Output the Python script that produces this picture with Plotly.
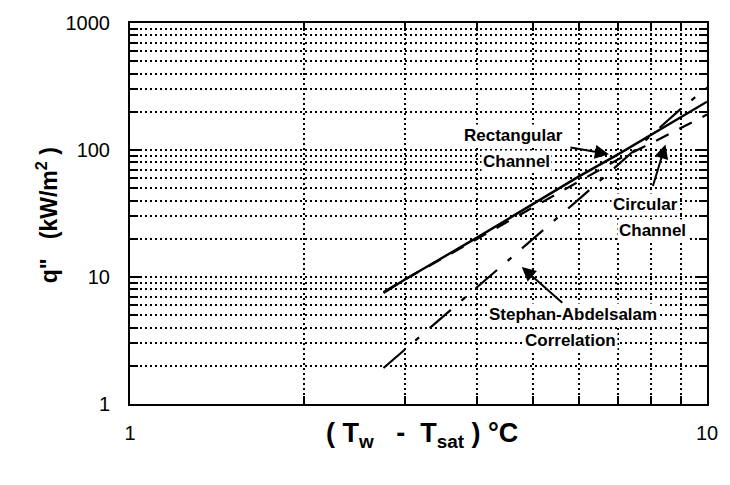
import plotly.graph_objects as go

# Data
dT = [2.75, 3, 4, 5, 6, 7, 8, 9, 10]
q_rect = [7.5, 9.6, 20.5, 37.5, 62, 92, 132, 180, 240]
q_circ = [7.6, 9.6, 20, 35.5, 57, 84, 113, 148, 190]
q_stephan = [1.92, 2.7, 8.4, 20, 41, 76, 130, 210, 310]

x_ticks = [1, 10]
x_ticklabels = ["1", "10"]
y_ticks = [1, 10, 100, 1000]
y_ticklabels = ["1", "10", "100", "1000"]
x_minor = [2, 3, 4, 5, 6, 7, 8, 9]
y_minor = [m * d for d in (1, 10, 100) for m in (2, 3, 4, 5, 6, 7, 8, 9)]

FONT = "Liberation Sans, Arial, Helvetica, sans-serif"

fig = go.Figure()
fig.add_trace(go.Scatter(x=dT, y=q_rect, mode="lines",
                         line=dict(color="black", width=2.4), name="Rectangular Channel"))
fig.add_trace(go.Scatter(x=dT, y=q_circ, mode="lines",
                         line=dict(color="black", width=2.2, dash="14px,12px"), name="Circular Channel"))
fig.add_trace(go.Scatter(x=dT, y=q_stephan, mode="lines",
                         line=dict(color="black", width=2.2, dash="28px,14px,5px,14px"),
                         name="Stephan-Abdelsalam Correlation"))

grid = dict(showgrid=True, gridcolor="black", gridwidth=1.5, griddash="2px,3px")

fig.update_xaxes(type="log", range=[0, 1], tickvals=x_ticks, ticktext=x_ticklabels,
                 ticks="inside", ticklen=10, tickwidth=2, tickcolor="black",
                 showline=True, linecolor="black", linewidth=2, mirror="allticks",
                 tickfont=dict(family=FONT, size=20, color="black"),
                 ticklabelstandoff=10, zeroline=False,
                 minor=dict(tickvals=x_minor, ticks="inside", ticklen=8, tickwidth=1.5,
                            tickcolor="black", **grid),
                 **grid)
fig.update_yaxes(type="log", range=[0, 3], tickvals=y_ticks, ticktext=y_ticklabels,
                 ticks="inside", ticklen=10, tickwidth=2, tickcolor="black",
                 showline=True, linecolor="black", linewidth=2, mirror="allticks",
                 tickfont=dict(family=FONT, size=20, color="black"),
                 ticklabelstandoff=14, zeroline=False,
                 minor=dict(tickvals=y_minor, ticks="inside", ticklen=8, tickwidth=1.5,
                            tickcolor="black", **grid),
                 **grid)

lab = dict(family=FONT, size=17, color="black", weight="bold")
texts = [
    ("Rectangular", 0.665, 2.112),
    ("Channel", 0.670, 1.906),
    ("Circular", 0.893, 1.569),
    ("Channel", 0.905, 1.370),
    ("Stephan-Abdelsalam", 0.768, 0.704),
    ("Correlation", 0.763, 0.497),
]
for t, lx, ly in texts:
    fig.add_annotation(x=lx, y=ly, text=t, showarrow=False, font=lab,
                       bgcolor="white", borderpad=1)

arrows = [
    (0.830, 1.967, -40, -7),
    (0.928, 2.043, -13, 43),
    (0.679, 1.079, 42, 37),
]
for hx, hy, ax, ay in arrows:
    fig.add_annotation(x=hx, y=hy, ax=ax, ay=ay, text="", showarrow=True,
                       arrowhead=2, arrowsize=1.4, arrowwidth=2, arrowcolor="black")

fig.add_annotation(xref="paper", yref="paper", x=(425 - 130) / 582, y=(404 - 455) / 392,
                   text="(\u00a0T<sub>w</sub>\u00a0\u00a0\u00a0-\u00a0\u00a0T<sub>sat</sub>\u00a0)\u00a0°C",
                   showarrow=False, font=dict(family=FONT, size=27, color="black", weight="bold"))
fig.add_annotation(xref="paper", yref="paper", x=(30 - 130) / 582, y=(404 - 210) / 392,
                   text="q\"\u00a0\u00a0\u00a0(kW/m<sup>2</sup>\u00a0)", textangle=-90,
                   showarrow=False, font=dict(family=FONT, size=23, color="black", weight="bold"))

fig.update_layout(width=730, height=485, margin=dict(l=130, r=18, t=12, b=81),
                  plot_bgcolor="white", paper_bgcolor="white", showlegend=False)

fig.write_html("out.html")
